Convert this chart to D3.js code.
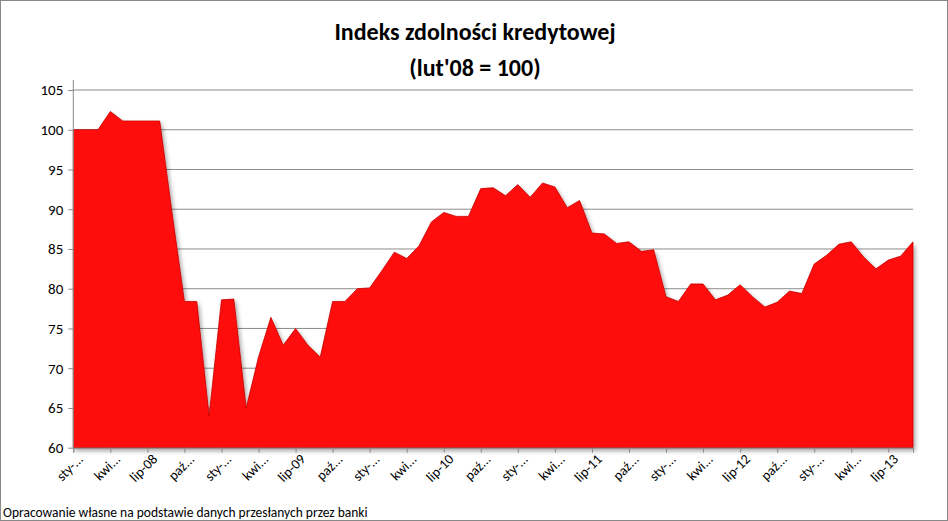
<!DOCTYPE html>
<html><head><meta charset="utf-8">
<script src="https://cdn.jsdelivr.net/npm/d3@7"></script>
<style>body{margin:0;background:#fff}svg{display:block}</style>
</head><body>
<svg id="c" width="948" height="521"></svg>
<script>
const values = [100,100,100,102.3,101.1,101.1,101.1,101.1,89.5,78.4,78.4,64,78.6,78.7,65,71.4,76.4,72.9,75,72.9,71.4,78.4,78.4,80,80.1,82.3,84.6,83.8,85.4,88.4,89.6,89.1,89.1,92.6,92.7,91.7,93.1,91.5,93.3,92.8,90.2,91.1,87,86.9,85.7,85.9,84.7,84.9,79,78.4,80.6,80.6,78.6,79.2,80.5,79,77.7,78.3,79.7,79.4,83.1,84.2,85.6,85.9,84,82.5,83.6,84.1,85.9];
const tickLabels = ["sty-...","kwi...","lip-08","paź...","sty-...","kwi...","lip-09","paź...","sty-...","kwi...","lip-10","paź...","sty-...","kwi...","lip-11","paź...","sty-...","kwi...","lip-12","paź...","sty-...","kwi...","lip-13"];
const yTicks = [60,65,70,75,80,85,90,95,100,105];

const svg = d3.select("#c");
const font = "Calibri, Carlito, 'Liberation Sans', Arial, sans-serif";
svg.append("rect").attr("x",0.5).attr("y",0.5).attr("width",947).attr("height",520).attr("fill","#fff").attr("stroke","#888");
const L=73.3, R=913, T=90, B=447.7;
const x = d3.scaleLinear().domain([0,values.length-1]).range([L,R]);
const y = d3.scaleLinear().domain([60,105]).range([B,T]);

const defs = svg.append("defs");
const f = defs.append("filter").attr("id","sh").attr("x","-5%").attr("y","-5%").attr("width","110%").attr("height","110%");
f.append("feDropShadow").attr("dx",2).attr("dy",3).attr("stdDeviation",2).attr("flood-color","#000").attr("flood-opacity",0.35);

svg.append("g").selectAll("line").data(yTicks.slice(1)).join("line")
  .attr("x1",L).attr("x2",R).attr("y1",d=>y(d)).attr("y2",d=>y(d)).attr("stroke","#8c8c8c").attr("stroke-width",1);

const area = d3.area().x((d,i)=>x(i)).y0(y(60)).y1(d=>y(d));
svg.append("path").datum(values).attr("d",area).attr("fill","#ff0a0a").attr("stroke","#c80000").attr("stroke-width",0.8).attr("filter","url(#sh)");

// axes
const ya = svg.append("g").attr("transform",`translate(${L},0)`).call(d3.axisLeft(y).tickValues(yTicks).tickSize(5).tickFormat(d3.format("d")));
ya.selectAll("text").attr("font-family",font).attr("font-size",15).attr("fill","#000").attr("dx",-2);
ya.selectAll("line,path").attr("stroke","#888");
ya.select(".domain").attr("d",`M0,${B}V${T-10}`);
const tickIdx = tickLabels.map((d,i)=>i*3);
const xa = svg.append("g").attr("transform",`translate(0,${B})`).call(d3.axisBottom(x).tickValues(tickIdx).tickSize(5).tickFormat((d,i)=>tickLabels[i]));
xa.selectAll("line,path").attr("stroke","#888");
xa.selectAll("text").attr("font-family",font).attr("font-size",14).attr("fill","#000")
  .attr("text-anchor","end").attr("transform","translate(4,6) rotate(-45)").attr("dy","0.35em").attr("y",4);

svg.append("text").attr("x",475).attr("y",40).attr("text-anchor","middle").attr("font-family",font).attr("font-weight","bold").attr("font-size",24).text("Indeks zdolności kredytowej");
svg.append("text").attr("x",475).attr("y",76).attr("text-anchor","middle").attr("font-family",font).attr("font-weight","bold").attr("font-size",24).text("(lut'08 = 100)");
svg.append("text").attr("x",3).attr("y",517).attr("font-family",font).attr("font-size",13.5).text("Opracowanie własne na podstawie danych przesłanych przez banki");
</script></body></html>
